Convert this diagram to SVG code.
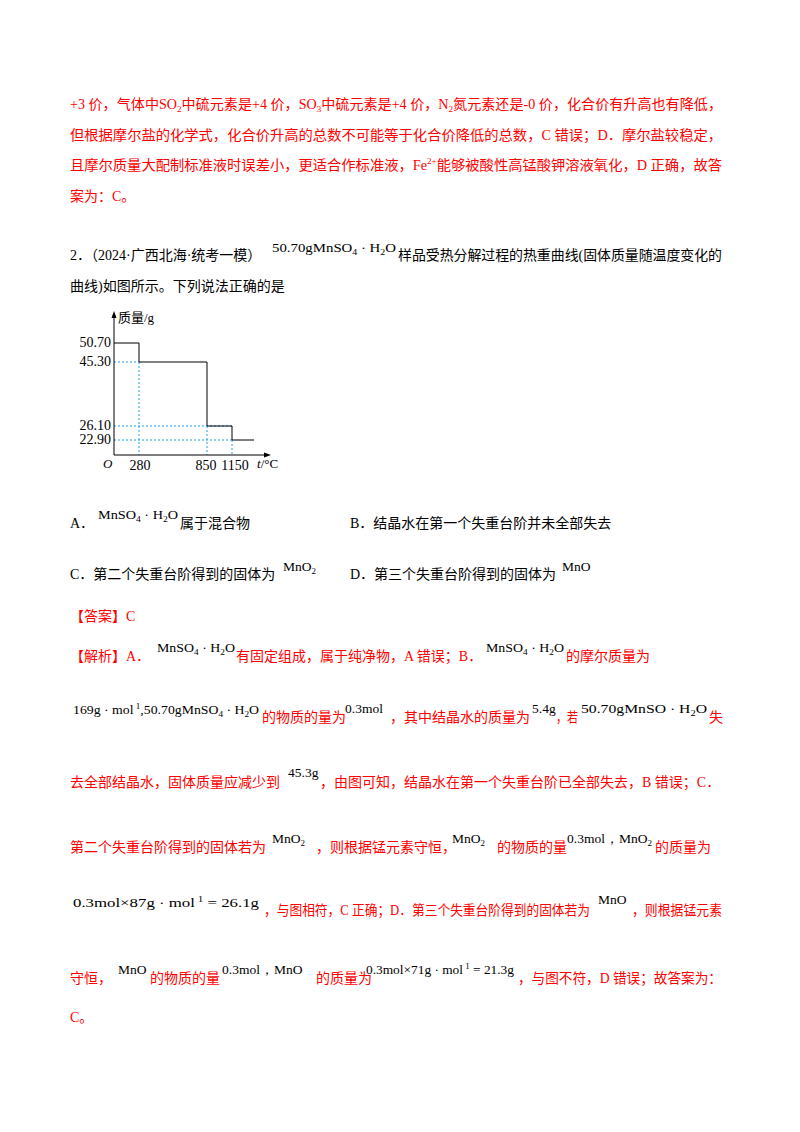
<svg xmlns="http://www.w3.org/2000/svg" width="800" height="1132" viewBox="0 0 800 1132">
<style>
text{font-family:"Liberation Serif","Noto Sans CJK SC",serif;font-size:14px;fill:#000}
.r{fill:#ff0000}
.f{font-family:"Liberation Serif",serif;font-size:13.5px}
.s{font-size:9px}
.ax{stroke:#000;stroke-width:1;fill:none}
.dot{stroke:#1aa3ea;stroke-width:1;stroke-dasharray:2,2;fill:none}
</style>
<rect width="800" height="1132" fill="#fff"/>
<g id="para1">
<text class="r" x="70" y="109" textLength="652" lengthAdjust="spacingAndGlyphs">+3 价，气体中SO<tspan class="s" dy="3">2</tspan><tspan dy="-3">中硫元素是+4 价，SO</tspan><tspan class="s" dy="3">3</tspan><tspan dy="-3">中硫元素是+4 价，N</tspan><tspan class="s" dy="3">2</tspan><tspan dy="-3">氮元素还是-0 价，化合价有升高也有降低，</tspan></text>
<text class="r" x="70" y="140" textLength="652" lengthAdjust="spacingAndGlyphs">但根据摩尔盐的化学式，化合价升高的总数不可能等于化合价降低的总数，C 错误；D．摩尔盐较稳定，</text>
<text class="r" x="70" y="170" textLength="652" lengthAdjust="spacingAndGlyphs">且摩尔质量大配制标准液时误差小，更适合作标准液，Fe<tspan class="s" dy="-6">2+</tspan><tspan dy="6">能够被酸性高锰酸钾溶液氧化，D 正确，故答</tspan></text>
<text class="r" x="70" y="201">案为：C。</text>
</g>
<g id="question">
<text x="70" y="260">2．（2024·广西北海·统考一模）</text>
<text class="f" x="272" y="252" textLength="124" lengthAdjust="spacingAndGlyphs">50.70gMnSO<tspan class="s" dy="3">4</tspan><tspan dy="-3"> · H</tspan><tspan class="s" dy="3">2</tspan><tspan dy="-3">O</tspan></text>
<text x="398" y="260" textLength="324" lengthAdjust="spacingAndGlyphs">样品受热分解过程的热重曲线(固体质量随温度变化的</text>
<text x="70" y="291">曲线)如图所示。下列说法正确的是</text>
</g>
<g id="chart">
<line class="dot" x1="114" y1="362" x2="139" y2="362"/>
<line class="dot" x1="139" y1="362" x2="139" y2="455"/>
<line class="dot" x1="114" y1="426" x2="232" y2="426"/>
<line class="dot" x1="207" y1="426" x2="207" y2="455"/>
<line class="dot" x1="114" y1="440" x2="232" y2="440"/>
<line class="dot" x1="232" y1="440" x2="232" y2="455"/>
<polyline class="ax" points="114,343 139,343 139,362 207,362 207,426 232,426 232,440 254,440"/>
<line class="ax" x1="114" y1="455" x2="114" y2="314"/>
<polygon points="114,311 111.5,318 116.5,318"/>
<line class="ax" x1="114" y1="455" x2="268" y2="455"/>
<polygon points="271,455 264,452.5 264,457.5"/>
<text x="118" y="322" style="font-size:13px">质量/g</text>
<g style="font-size:13px" text-anchor="end">
<text x="111" y="347">50.70</text><text x="111" y="366">45.30</text>
<text x="111" y="430">26.10</text><text x="111" y="444">22.90</text>
</g>
<g style="font-size:12.5px" text-anchor="middle">
<text x="140" y="470">280</text><text x="206" y="470">850</text><text x="235" y="470">1150</text>
</g>
<text x="103" y="468" style="font-size:13px;font-style:italic">O</text>
<text x="257" y="468" style="font-size:13px"><tspan font-style="italic">t</tspan>/°C</text>
</g>
<g id="options">
<text x="70" y="528">A．</text>
<text class="f" x="98" y="519" textLength="80" lengthAdjust="spacingAndGlyphs">MnSO<tspan class="s" dy="3">4</tspan><tspan dy="-3"> · H</tspan><tspan class="s" dy="3">2</tspan><tspan dy="-3">O</tspan></text>
<text x="180" y="528">属于混合物</text>
<text x="350" y="528">B．结晶水在第一个失重台阶并未全部失去</text>
<text x="70" y="579">C．第二个失重台阶得到的固体为</text>
<text class="f" x="283" y="571">MnO<tspan class="s" dy="3">2</tspan></text>
<text x="350" y="579">D．第三个失重台阶得到的固体为</text>
<text class="f" x="562" y="571">MnO</text>
</g>
<g id="answer">
<text class="r" x="70" y="621">【答案】C</text>
<text class="r" x="70" y="661">【解析】A．</text>
<text class="f" x="157" y="652" textLength="78" lengthAdjust="spacingAndGlyphs">MnSO<tspan class="s" dy="3">4</tspan><tspan dy="-3"> · H</tspan><tspan class="s" dy="3">2</tspan><tspan dy="-3">O</tspan></text>
<text class="r" x="236" y="661">有固定组成，属于纯净物，A 错误；B．</text>
<text class="f" x="486" y="652" textLength="78" lengthAdjust="spacingAndGlyphs">MnSO<tspan class="s" dy="3">4</tspan><tspan dy="-3"> · H</tspan><tspan class="s" dy="3">2</tspan><tspan dy="-3">O</tspan></text>
<text class="r" x="566" y="661">的摩尔质量为</text>

<text class="f" x="73" y="714" textLength="186" lengthAdjust="spacingAndGlyphs">169g · mol<tspan class="s" dy="-5"> 1</tspan><tspan dy="5">,50.70gMnSO</tspan><tspan class="s" dy="3">4</tspan><tspan dy="-3"> · H</tspan><tspan class="s" dy="3">2</tspan><tspan dy="-3">O</tspan></text>
<text class="r" x="262" y="722">的物质的量为</text>
<text class="f" x="345" y="713">0.3mol</text>
<text class="r" x="390" y="722">，其中结晶水的质量为</text>
<text class="f" x="532" y="713">5.4g</text>
<text class="r" x="556" y="722" textLength="22" lengthAdjust="spacingAndGlyphs">，若</text>
<text class="f" x="581" y="713" textLength="126" lengthAdjust="spacingAndGlyphs">50.70gMnSO · H<tspan class="s" dy="3">2</tspan><tspan dy="-3">O</tspan></text>
<text class="r" x="709" y="722">失</text>

<text class="r" x="70" y="787">去全部结晶水，固体质量应减少到</text>
<text class="f" x="288" y="777">45.3g</text>
<text class="r" x="320" y="787">，由图可知，结晶水在第一个失重台阶已全部失去，B 错误；C．</text>

<text class="r" x="70" y="852">第二个失重台阶得到的固体若为</text>
<text class="f" x="272" y="843">MnO<tspan class="s" dy="3">2</tspan></text>
<text class="r" x="316" y="852">，则根据锰元素守恒，</text>
<text class="f" x="452" y="843">MnO<tspan class="s" dy="3">2</tspan></text>
<text class="r" x="497" y="852">的物质的量</text>
<text class="f" x="567" y="843">0.3mol，MnO<tspan class="s" dy="3">2</tspan></text>
<text class="r" x="655" y="852">的质量为</text>

<text class="f" x="73" y="907" textLength="186" lengthAdjust="spacingAndGlyphs">0.3mol×87g · mol<tspan class="s" dy="-5"> 1</tspan><tspan dy="5"> = 26.1g</tspan></text>
<text class="r" x="264" y="915" textLength="326" lengthAdjust="spacingAndGlyphs">，与图相符，C 正确；D．第三个失重台阶得到的固体若为</text>
<text class="f" x="598" y="904">MnO</text>
<text class="r" x="632" y="915" textLength="90" lengthAdjust="spacingAndGlyphs">，则根据锰元素</text>

<text class="r" x="70" y="983">守恒，</text>
<text class="f" x="118" y="974">MnO</text>
<text class="r" x="150" y="983">的物质的量</text>
<text class="f" x="222" y="974">0.3mol，MnO</text>
<text class="r" x="316" y="983">的质量为</text>
<text class="f" x="366" y="974" textLength="148" lengthAdjust="spacingAndGlyphs">0.3mol×71g · mol<tspan class="s" dy="-5"> 1</tspan><tspan dy="5"> = 21.3g</tspan></text>
<text class="r" x="518" y="983" textLength="204" lengthAdjust="spacingAndGlyphs">，与图不符，D 错误；故答案为：</text>
<text class="r" x="70" y="1022">C。</text>
</g>
</svg>
